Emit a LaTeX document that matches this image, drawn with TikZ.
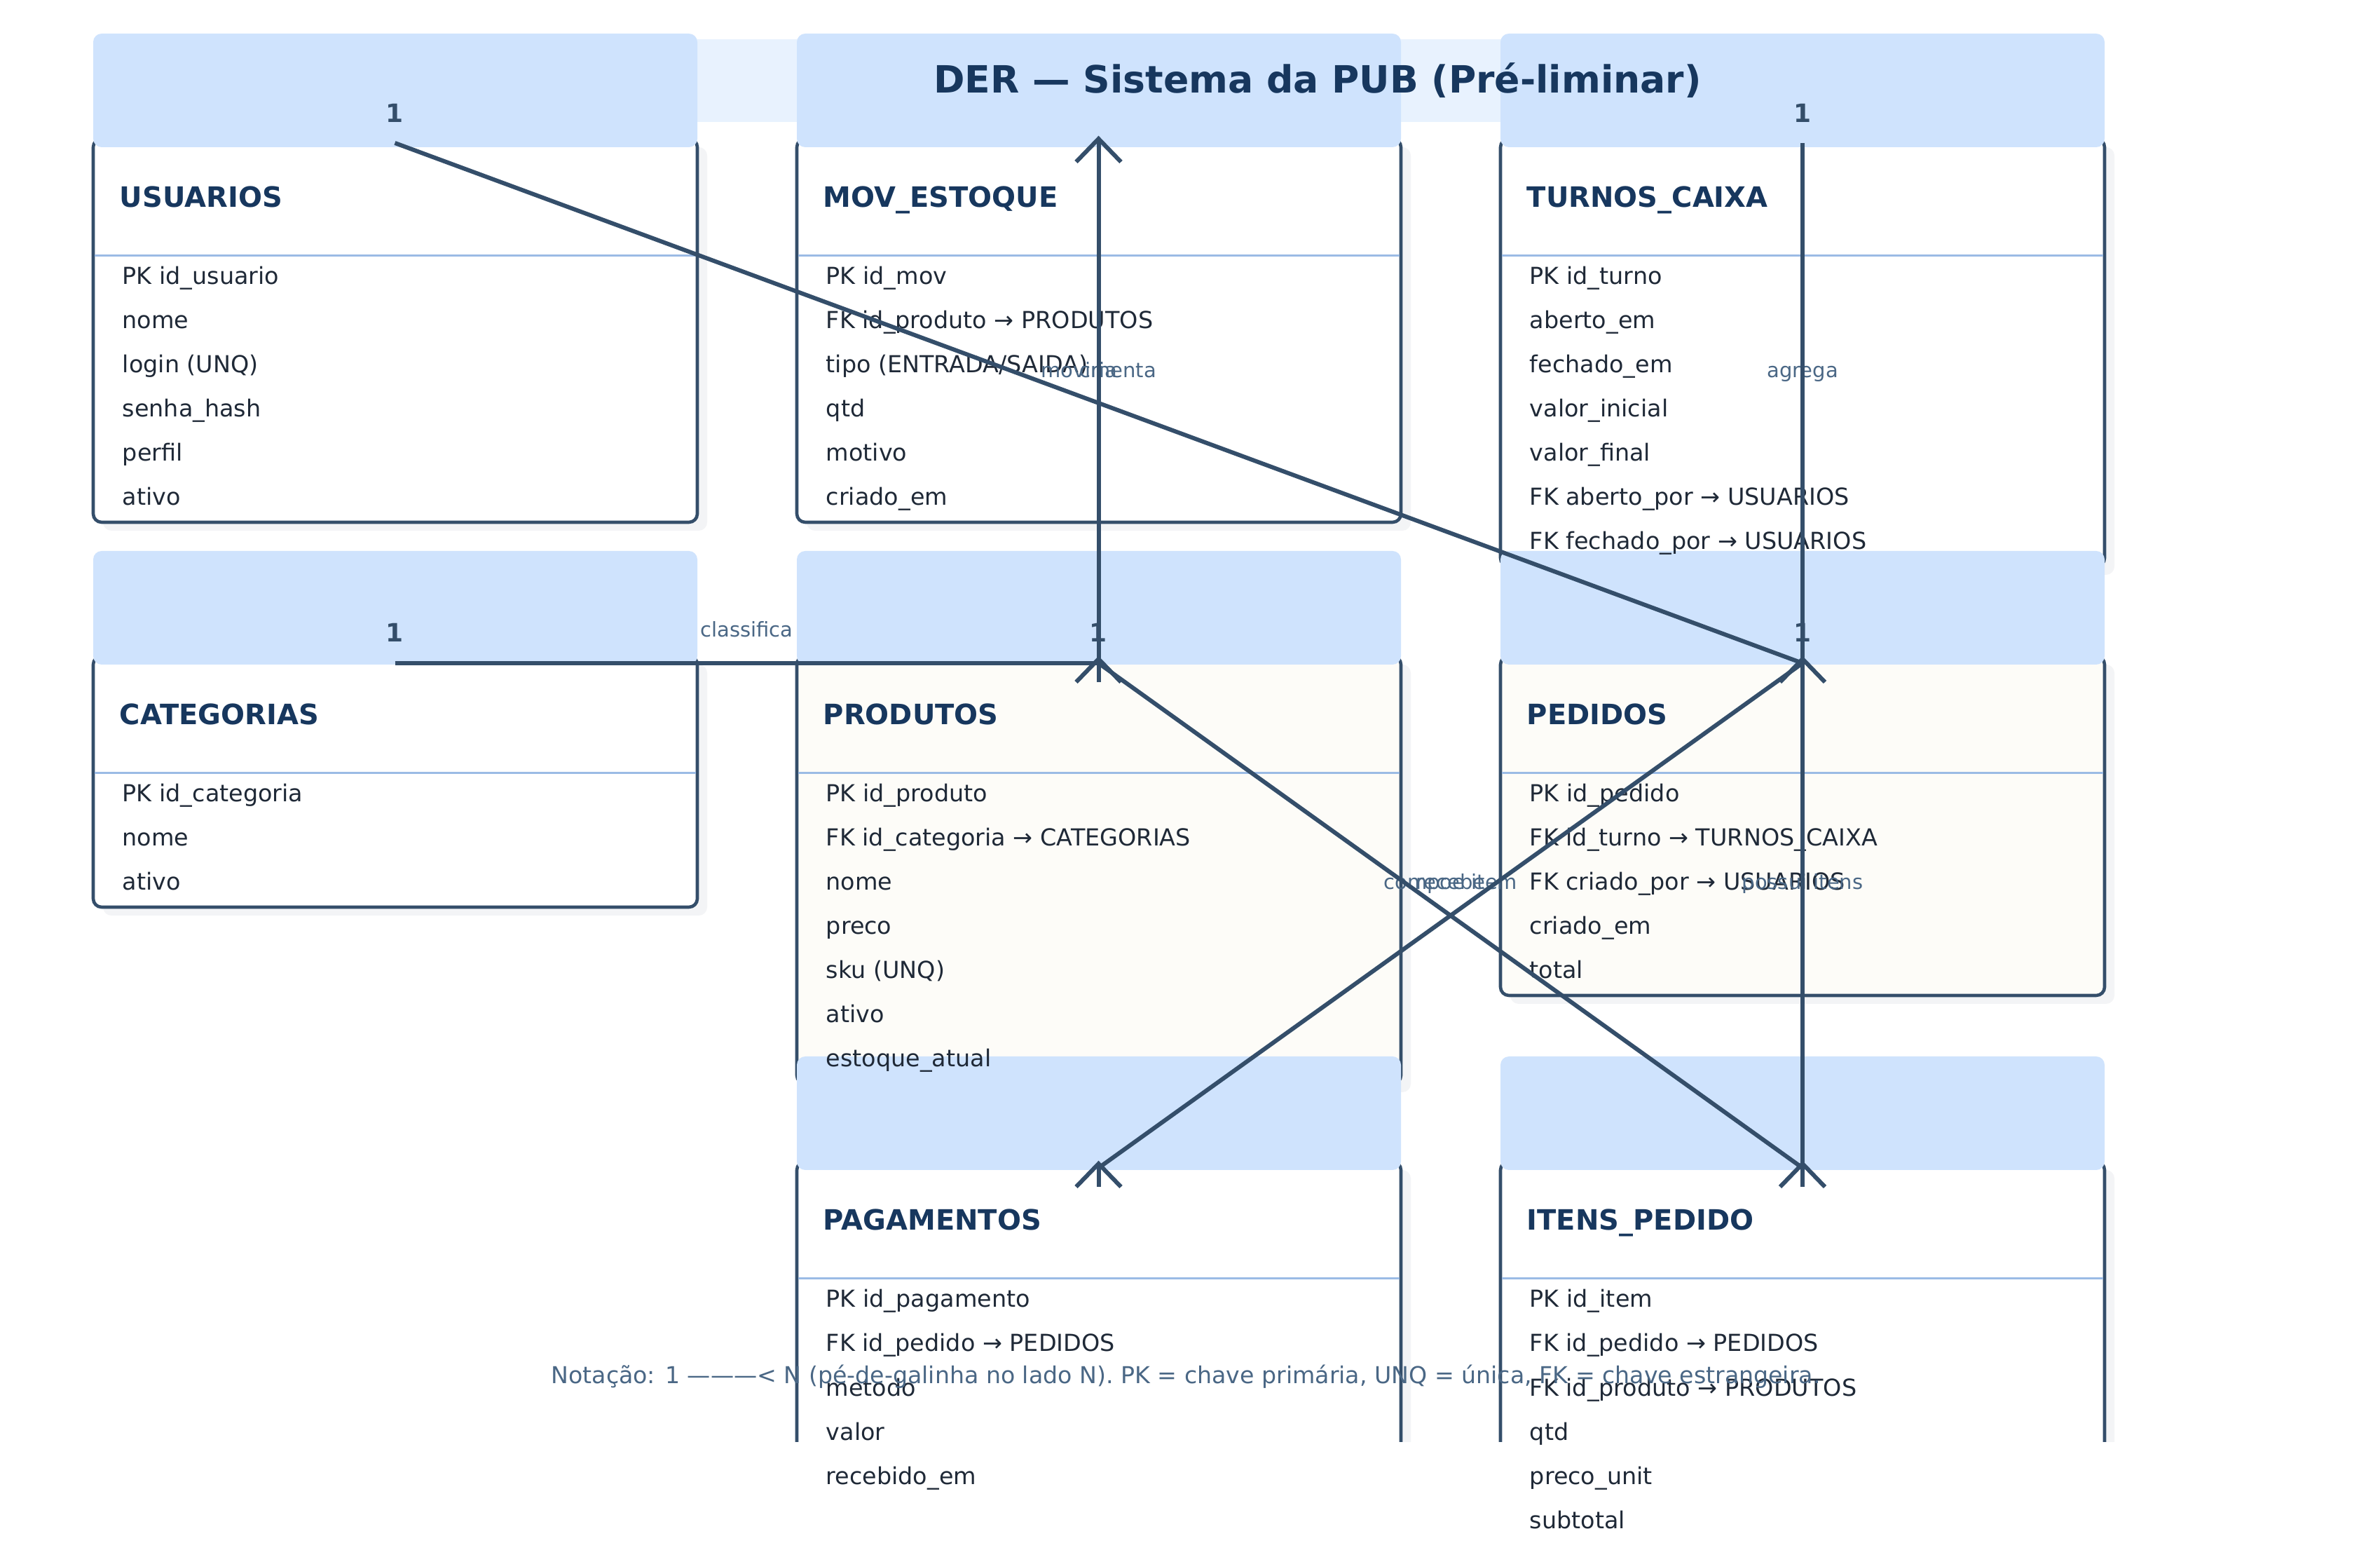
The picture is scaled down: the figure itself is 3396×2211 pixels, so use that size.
\documentclass[tikz,border=0pt]{standalone}
\usepackage{fontspec}
\setmainfont{DejaVu Sans}
\usetikzlibrary{calc}
\definecolor{headc}{RGB}{207,227,253}
\definecolor{bandc}{RGB}{232,242,254}
\definecolor{linkc}{RGB}{52,78,106}
\definecolor{titc}{RGB}{23,55,94}
\definecolor{attrc}{RGB}{31,41,55}
\definecolor{lblc}{RGB}{74,103,133}
\definecolor{sepc}{RGB}{155,187,229}
\definecolor{shadowc}{RGB}{243,244,246}
\definecolor{creamc}{RGB}{253,252,248}
\pgfdeclarelayer{bandlayer}
\pgfdeclarelayer{boxlayer}
\pgfdeclarelayer{headlayer}
\pgfdeclarelayer{textlayer}
\pgfsetlayers{bandlayer,boxlayer,headlayer,textlayer,main}
\tikzset{
  attr/.style={anchor=base west, inner sep=0pt, font=\fontsize{8.35pt}{10pt}\selectfont, text=attrc},
  etitle/.style={anchor=base west, inner sep=0pt, font=\bfseries\fontsize{10pt}{12pt}\selectfont, text=titc},
  lbl/.style={anchor=base, inner sep=0pt, font=\fontsize{7.25pt}{9pt}\selectfont, text=lblc},
  one/.style={anchor=base, inner sep=0pt, font=\bfseries\fontsize{9pt}{11pt}\selectfont, text=linkc},
  link/.style={draw=linkc, line width=1.5pt},
  boxline/.style={draw=linkc, line width=1.15pt, rounded corners=3pt},
  sepline/.style={draw=sepc, line width=0.75pt},
}
% #1 id, #2 left x, #3 header top, #4 title, #5 fill, #6 n attrs, #7 attrs
\newcommand\entity[7]{%
  \begin{pgfonlayer}{boxlayer}
    \begin{scope}
      \clip (0,0) rectangle (3396,2056);
      \fill[shadowc, rounded corners=3pt] (#2+14,#3+162) rectangle (#2+876,#3+331+63*#6);
      \filldraw[fill=#5, boxline] (#2,#3+150) rectangle (#2+862,#3+319+63*#6);
    \end{scope}
  \end{pgfonlayer}
  \begin{pgfonlayer}{headlayer}
    \fill[headc, rounded corners=3pt] (#2,#3) rectangle (#2+862,#3+162);
  \end{pgfonlayer}
  \begin{pgfonlayer}{textlayer}
    \node[etitle] (#1-title) at (#2+37,#3+248) {#4};
    \draw[sepline] (#2+2,#3+317) -- (#2+860,#3+317);
    \foreach \a [count=\i from 0] in {#7} {\node[attr] (#1-a\i) at (#2+41,#3+358+63*\i) {\a};}
  \end{pgfonlayer}
}
\newcommand\crowfoot[1]{%
  \draw[link] (#1) ++(-32,27) -- ++(32,-33) -- ++(32,33);
  \draw[link] (#1) ++(0,-6) -- ++(0,33);
}
\begin{document}
\begin{tikzpicture}[x=0.25pt, y=-0.25pt]
  \useasboundingbox (0,0) rectangle (3396,2211);
  \begin{pgfonlayer}{bandlayer}
    \fill[white] (0,0) rectangle (3396,2211);
    \fill[bandc] (300,56) rectangle (2900,174);
  \end{pgfonlayer}

  \entity{usu}{133}{48}{USUARIOS}{white}{6}{PK id\_usuario, nome, login (UNQ), senha\_hash, perfil, ativo}
  \entity{mov}{1137}{48}{MOV\_ESTOQUE}{white}{6}{PK id\_mov, FK id\_produto → PRODUTOS, tipo (ENTRADA/SAIDA), qtd, motivo, criado\_em}
  \entity{tur}{2141}{48}{TURNOS\_CAIXA}{white}{7}{PK id\_turno, aberto\_em, fechado\_em, valor\_inicial, valor\_final, FK aberto\_por → USUARIOS, FK fechado\_por → USUARIOS}
  \entity{cat}{133}{786}{CATEGORIAS}{white}{3}{PK id\_categoria, nome, ativo}
  \entity{pro}{1137}{786}{PRODUTOS}{creamc}{7}{PK id\_produto, FK id\_categoria → CATEGORIAS, nome, preco, sku (UNQ), ativo, estoque\_atual}
  \entity{ped}{2141}{786}{PEDIDOS}{creamc}{5}{PK id\_pedido, FK id\_turno → TURNOS\_CAIXA, FK criado\_por → USUARIOS, criado\_em, total}
  \entity{pag}{1137}{1507}{PAGAMENTOS}{white}{5}{PK id\_pagamento, FK id\_pedido → PEDIDOS, metodo, valor, recebido\_em}
  \entity{ite}{2141}{1507}{ITENS\_PEDIDO}{white}{6}{PK id\_item, FK id\_pedido → PEDIDOS, FK id\_produto → PRODUTOS, qtd, preco\_unit, subtotal}

  \begin{pgfonlayer}{textlayer}
    \node[anchor=base, inner sep=0pt, font=\bfseries\fontsize{13.4pt}{16pt}\selectfont, text=titc] (title) at (1880,133) {DER — Sistema da PUB (Pré-liminar)};
  \end{pgfonlayer}

  % anchors
  \coordinate (usuA) at (563.5,204);
  \coordinate (movA) at (1567.5,204);
  \coordinate (turA) at (2572,204);
  \coordinate (catA) at (563.5,946);
  \coordinate (proA) at (1567.5,946);
  \coordinate (pedA) at (2572,946);
  \coordinate (pagA) at (1567.5,1666);
  \coordinate (iteA) at (2572,1666);

  % cardinality 1
  \node[one] (one-usu) at ($(usuA)+(0,-29)$) {1};
  \node[one] (one-tur) at ($(turA)+(0,-29)$) {1};
  \node[one] (one-cat) at ($(catA)+(0,-30)$) {1};
  \node[one] (one-pro) at ($(proA)+(0,-30)$) {1};
  \node[one] (one-ped) at ($(pedA)+(0,-30)$) {1};

  % relationship labels
  \node[lbl] (l-class) at ($(catA)!0.5!(proA)+(0,-37)$) {classifica};
  \node[lbl] (l-mov) at ($(proA)!0.5!(movA)+(0,-36)$) {movimenta};
  \node[lbl] (l-cria) at ($(usuA)!0.5!(pedA)+(0,-36)$) {cria};
  \node[lbl] (l-agr) at ($(turA)!0.5!(pedA)+(0,-36)$) {agrega};
  \node[lbl] (l-poss) at ($(pedA)!0.5!(iteA)+(0,-37)$) {possui itens};
  \node[lbl] (l-comp) at ($(proA)!0.5!(iteA)+(0,-37)$) {compoe item};
  \node[lbl] (l-rec) at ($(pedA)!0.5!(pagA)+(0,-37)$) {recebe};

  % connectors
  \draw[link] (usuA) -- (pedA);
  \draw[link] (catA) -- (proA);
  \draw[link] (proA) -- (movA);
  \draw[link] (turA) -- (pedA);
  \draw[link] (pedA) -- (iteA);
  \draw[link] (proA) -- (iteA);
  \draw[link] (pedA) -- (pagA);
  \crowfoot{movA}
  \crowfoot{proA}
  \crowfoot{pedA}
  \crowfoot{pagA}
  \crowfoot{iteA}

  \node[anchor=base, inner sep=0pt, font=\fontsize{8.3pt}{10pt}\selectfont, text=lblc] (note) at (1692,1973) {Notação: 1 ———< N (pé-de-galinha no lado N). PK = chave primária, UNQ = única, FK = chave estrangeira.};
\end{tikzpicture}
\end{document}
